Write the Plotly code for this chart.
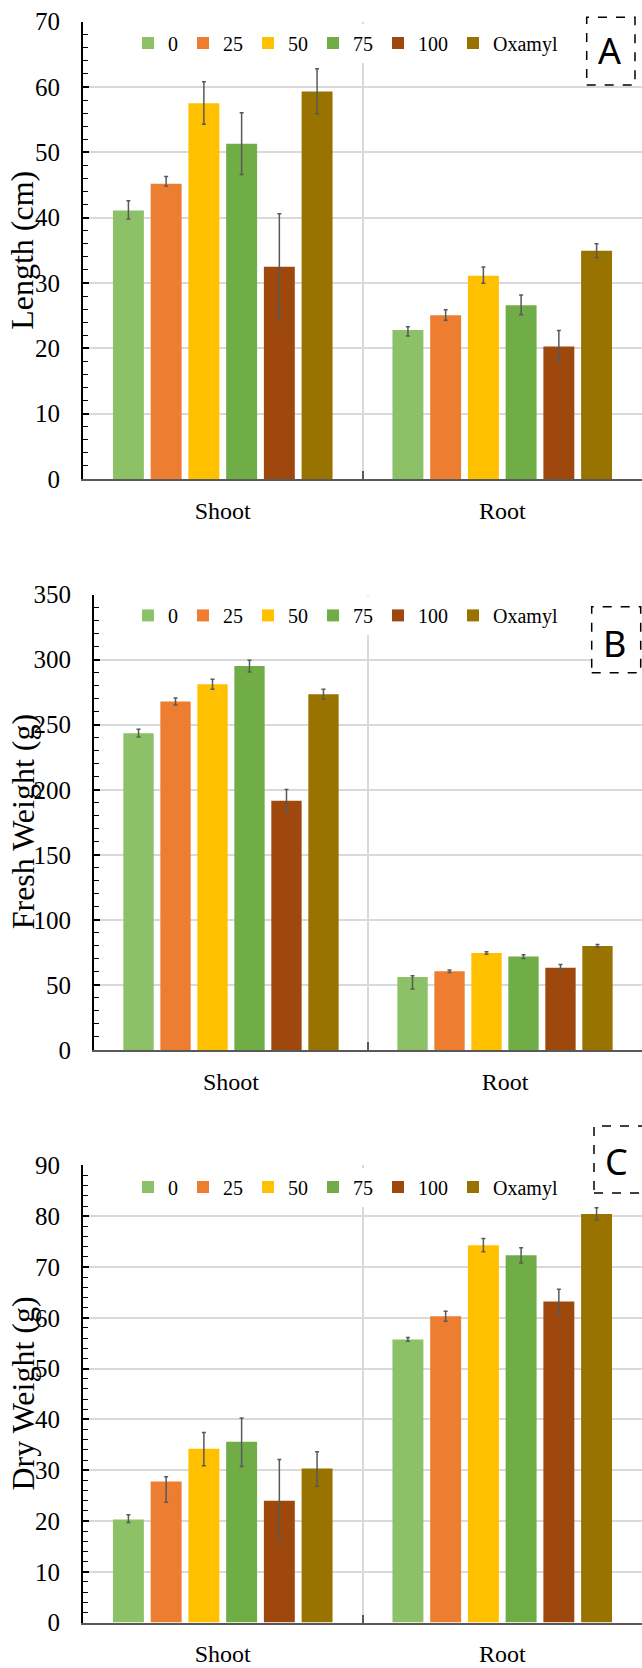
import plotly.graph_objects as go

W, H = 642, 1668

categories = ["Shoot", "Root"]
series = ["0", "25", "50", "75", "100", "Oxamyl"]
colors = ["#8CC168", "#ED7D31", "#FFC000", "#70AD47", "#9E480E", "#997300"]

# Panel A: Length (cm)
length_shoot = [41.1, 45.2, 57.5, 51.3, 32.5, 59.3]
length_shoot_plus = [1.5, 1.1, 3.3, 4.75, 8.1, 3.5]
length_shoot_minus = [1.3, 0.4, 3.2, 4.7, 8.1, 3.4]
length_root = [22.8, 25.05, 31.1, 26.6, 20.3, 34.95]
length_root_plus = [0.5, 0.85, 1.35, 1.55, 2.45, 1.05]
length_root_minus = [0.9, 0.75, 1.15, 1.45, 2.45, 1.05]

# Panel B: Fresh weight (g)
fresh_shoot = [243.5, 267.9, 281.1, 295.1, 191.6, 273.4]
fresh_shoot_plus = [3.0, 2.7, 3.8, 4.5, 8.6, 3.8]
fresh_shoot_minus = [3.0, 2.7, 3.8, 4.5, 8.6, 3.8]
fresh_root = [56.1, 60.5, 74.6, 71.8, 63.3, 80.0]
fresh_root_plus = [1.0, 1.0, 1.0, 1.5, 2.4, 1.1]
fresh_root_minus = [9.2, 1.0, 1.0, 1.5, 2.2, 1.1]

# Panel C: Dry weight (g)
dry_shoot = [20.3, 27.8, 34.2, 35.6, 24.0, 30.35]
dry_shoot_plus = [0.95, 0.9, 3.2, 4.7, 8.1, 3.3]
dry_shoot_minus = [0.6, 4.1, 3.3, 4.85, 8.1, 3.5]
dry_root = [55.75, 60.3, 74.3, 72.3, 63.2, 80.45]
dry_root_plus = [0.35, 1.0, 1.3, 1.5, 2.4, 1.2]
dry_root_minus = [0.35, 1.0, 1.3, 1.5, 2.4, 1.2]

panel_titles = ["Length (cm)", "Fresh Weight (g)", "Dry Weight (g)"]
panel_letters = ["A", "B", "C"]
y_ranges = [[0, 70], [0, 350], [0, 90]]
y_dticks = [10, 50, 10]
y_minor = [2, 10, 2]

panels = [
    (length_shoot, length_shoot_plus, length_shoot_minus, length_root, length_root_plus, length_root_minus),
    (fresh_shoot, fresh_shoot_plus, fresh_shoot_minus, fresh_root, fresh_root_plus, fresh_root_minus),
    (dry_shoot, dry_shoot_plus, dry_shoot_minus, dry_root, dry_root_plus, dry_root_minus),
]

# layout geometry in pixels
plot_left = [83, 94, 83]
plot_top = [21.7, 594.6, 1165.4]
plot_bottom = [479, 1050, 1622.6]
title_x = [22.5, 23, 22.5]
legend_y = [43, 615.4, 1187]
letter_box = [(586.7, 17.3, 635, 85), (591.7, 606.7, 640.7, 672.7), (594, 1126, 650, 1193)]
letter_pos = [(609, 50), (614, 643), (616.7, 1161.7)]

def px(x):
    return x / W

def py(y):
    return 1 - y / H

SERIF = "Liberation Serif"
fig = go.Figure()

for p, (sv, sp, sm, rv, rp, rm) in enumerate(panels):
    suffix = "" if p == 0 else str(p + 1)
    for i, name in enumerate(series):
        fig.add_trace(go.Bar(
            x=categories,
            y=[sv[i], rv[i]],
            name=name,
            marker=dict(color=colors[i], line=dict(width=0)),
            error_y=dict(type="data", symmetric=False,
                         array=[sp[i], rp[i]], arrayminus=[sm[i], rm[i]],
                         color="#595959", thickness=1.5, width=2),
            xaxis="x" + suffix, yaxis="y" + suffix,
            legend="legend" + suffix,
            showlegend=True,
        ))

layout = dict(
    width=W, height=H,
    margin=dict(l=0, r=0, t=0, b=0),
    paper_bgcolor="white", plot_bgcolor="white",
    barmode="group", bargap=0.19, bargroupgap=0.18,
    template="none",
    font=dict(family=SERIF, color="black"),
    shapes=[], annotations=[],
)

for p in range(3):
    suffix = "" if p == 0 else str(p + 1)
    ydom = [py(plot_bottom[p]), py(plot_top[p])]
    layout["xaxis" + suffix] = dict(
        domain=[px(plot_left[p]), 1.0], anchor="y" + suffix,
        type="category", range=[-0.5, 1.5], tickson="boundaries",
        showgrid=True, gridcolor="#D9D9D9", gridwidth=1.5,
        ticks="inside", ticklen=8, tickcolor="#595959", tickwidth=1.5,
        showline=True, linecolor="#595959", linewidth=2,
        tickfont=dict(family=SERIF, size=24, color="black"),
        ticklabelstandoff=9, automargin=False, zeroline=False,
    )
    layout["yaxis" + suffix] = dict(
        domain=ydom, anchor="x" + suffix,
        range=y_ranges[p], dtick=y_dticks[p], tick0=0,
        showgrid=True, gridcolor="#D9D9D9", gridwidth=1.5,
        ticks="inside", ticklen=6, tickcolor="black", tickwidth=1.5,
        minor=dict(dtick=y_minor[p], ticks="inside", ticklen=5,
                   tickcolor="black", tickwidth=1.2, showgrid=False),
        showline=True, linecolor="black", linewidth=2,
        tickfont=dict(family=SERIF, size=25, color="black"),
        ticklabelstandoff=16, automargin=False, zeroline=False,
    )
    layout["legend" + suffix] = dict(
        orientation="h", x=px(128), y=py(legend_y[p]),
        xanchor="left", yanchor="middle",
        bgcolor="white", borderwidth=0,
        font=dict(family=SERIF, size=20, color="black"),
        itemwidth=30, traceorder="normal", itemclick=False,
    )
    layout["annotations"].append(dict(
        text=panel_titles[p], textangle=-90, showarrow=False,
        xref="paper", yref="paper",
        x=px(title_x[p]), y=(ydom[0] + ydom[1]) / 2,
        xanchor="center", yanchor="middle",
        font=dict(family=SERIF, size=32, color="black"),
    ))
    bx0, by0, bx1, by1 = letter_box[p]
    layout["shapes"].append(dict(
        type="rect", xref="paper", yref="paper",
        x0=px(bx0), x1=px(bx1), y0=py(by1), y1=py(by0),
        line=dict(color="black", width=1.5, dash="dash"),
        fillcolor="white", layer="above",
    ))
    lx, ly = letter_pos[p]
    layout["annotations"].append(dict(
        text=panel_letters[p], showarrow=False,
        xref="paper", yref="paper", x=px(lx), y=py(ly),
        xanchor="center", yanchor="middle",
        font=dict(family="Noto Sans", size=36, color="black"),
    ))

fig.update_layout(**layout)
fig.write_html(
    "out.html",
    config={"displayModeBar": False},
    post_script="document.body.style.margin='0';document.body.style.overflow='hidden';",
)
